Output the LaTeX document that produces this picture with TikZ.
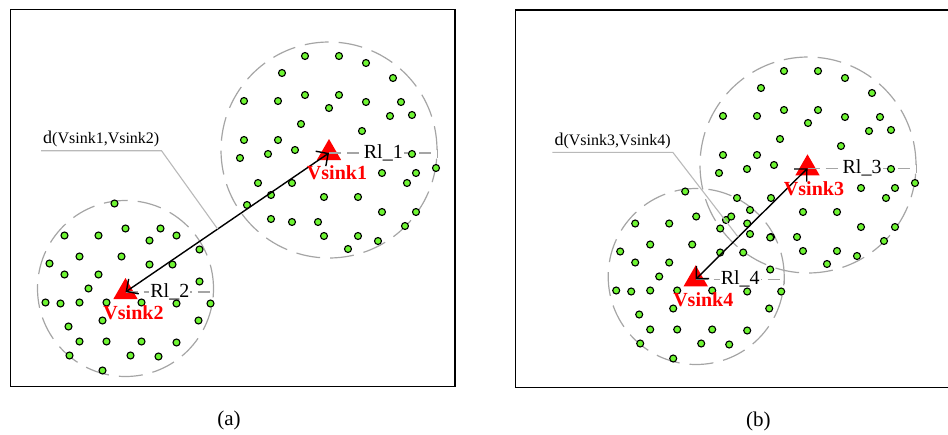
\documentclass[tikz,border=0pt]{standalone}
\usepackage{fontspec}
\setmainfont{Liberation Serif}
\usetikzlibrary{arrows.meta,shapes.geometric}

\definecolor{sensorgreen}{RGB}{110,245,50}
\definecolor{zonegray}{RGB}{165,165,165}
\definecolor{leadgray}{RGB}{185,185,185}

% sensor offsets from the zone centre (same in (a) and (b))
\def\ptsbig{-24/-94, 10/-94, 37/-87, -47/-77, 64/-72, -85/-49, -51/-49,
  -24/-55, 10/-55, 37/-48, 72/-48, 0/-42, 61/-34, 83/-35, -28/-26,
  33/-19, -85/-10, -51/-10, -34/0, -89/8, -61/4, 83/4, 53/23, 87/23,
  107/18, -71/33, -37/33, 78/33, -58/45, -5/47, 29/47, -82/55, 53/62,
  87/62, -58/69, -37/72, -11/72, 76/76, -5/86, 29/86, 49/91, 19/99}
\def\ptssmall{-11/-85, -61/-53, -27/-53, 0/-60, 35/-60, 51/-53, 24/-48,
  74/-39, -76/-25, -46/-32, -4/-32, 24/-24, 47/-24, -61/-14, -27/-14,
  -37/0, 74/-7, -80/14, -65/15, -46/14, -19/14, 16/14, 51/15, 85/15,
  -23/32, -57/38, 73/32, -46/53, -19/53, 16/53, 51/54, -56/67, 5/67,
  33/68, -23/82}

\tikzset{
  frame/.style={draw=black, line width=1.2pt},
  zone/.style={circle, draw=zonegray, line width=1.2pt,
    dash pattern=on 24pt off 10pt, inner sep=0pt},
  sensor/.style={fill=sensorgreen, draw=black, line width=1.1pt},
  sink/.style={regular polygon, regular polygon sides=3, fill=red,
    minimum size=28pt, inner sep=0pt},
  sinkname/.style={text=red, font=\fontsize{20}{22}\selectfont\bfseries,
    inner sep=0pt},
  dist/.style={line width=1.4pt,
    {Straight Barb[length=9pt,width=18pt]}-{Straight Barb[length=9pt,width=18pt]}},
  rline/.style={draw=zonegray, line width=1.1pt, dash pattern=on 12pt off 6pt,
    -{Bar[width=9pt]}},
  rlabel/.style={fill=white, inner sep=1pt, font=\fontsize{20}{22}\selectfont},
  dlabel/.style={inner xsep=2pt, inner ysep=3.5pt,
    font=\fontsize{18}{20}\selectfont},
  leader/.style={draw=leadgray, line width=1.1pt},
  caption/.style={font=\fontsize{21}{24}\selectfont}
}

\begin{document}
\begin{tikzpicture}[x=1pt,y=-1pt]
  \path[use as bounding box, clip] (0,0) rectangle (948,434);

  % (a)
  \draw[frame] (10.5,9.3) rectangle (455,386.7);
  \node[zone, minimum size=216pt] (c1) at (329,150) {};
  \node[zone, minimum size=176pt] (c2) at (125.5,288.5) {};
  \node[sink] (s1) at (329,153) {};
  \node[sink] (s2) at (125.5,292) {};

  \draw[rline] (s1.center) -- node[rlabel] (r1) {Rl\_1} (s1.center -| c1.east);
  \draw[rline] (s2.center) -- node[rlabel] (r2) {Rl\_2} (s2.center -| c2.east);

  \begin{scope}[shift={(329,150)}]
    \foreach \x/\y in \ptsbig
      \filldraw[sensor] (\x,\y) circle (3.5pt);
  \end{scope}
  \begin{scope}[shift={(125.5,288.5)}]
    \foreach \x/\y in \ptssmall
      \filldraw[sensor] (\x,\y) circle (3.5pt);
  \end{scope}

  \node[dlabel, anchor=south west] (d12) at (41,150.7)
    {d{\fontsize{16}{18}\selectfont(Vsink1,Vsink2)}};
  \draw[dist] (s2.center) -- coordinate[pos=0.453] (m12) (s1.center);
  \draw[leader] (m12) -- (d12.south east) -- (d12.south west);

  \node[sinkname] (v1) at (337,173) {Vsink1};
  \node[sinkname] (v2) at (133.5,313) {Vsink2};
  \node[caption] (capa) at (229,420.5) {(a)};

  % (b)
  \draw[frame] (515.7,10) rectangle (965,387.5);
  \node[zone, minimum size=216pt] (c3) at (808,165) {};
  \node[zone, minimum size=176pt] (c4) at (696.2,276.5) {};
  \node[sink] (s3) at (807.5,168.3) {};
  \node[sink] (s4) at (695.7,279.3) {};

  \draw[rline] (s3.center) -- node[rlabel] (r3) {Rl\_3} (s3.center -| c3.east);
  \draw[rline] (s4.center) -- node[rlabel] (r4) {Rl\_4} (s4.center -| c4.east);

  \begin{scope}[shift={(808,165)}]
    \foreach \x/\y in \ptsbig
      \filldraw[sensor] (\x,\y) circle (3.5pt);
  \end{scope}
  \begin{scope}[shift={(696.2,276.5)}]
    \foreach \x/\y in \ptssmall
      \filldraw[sensor] (\x,\y) circle (3.5pt);
  \end{scope}

  \node[dlabel, anchor=south west] (d34) at (552.3,152.3)
    {d{\fontsize{16}{18}\selectfont(Vsink3,Vsink4)}};
  \draw[dist] (s4.center) -- coordinate[pos=0.38] (m34) (s3.center);
  \draw[leader] (m34) -- (d34.south east) -- (d34.south west);

  \node[sinkname] (v3) at (814,188.3) {Vsink3};
  \node[sinkname] (v4) at (703.3,300) {Vsink4};
  \node[caption] (capb) at (758.3,421) {(b)};
\end{tikzpicture}
\end{document}
